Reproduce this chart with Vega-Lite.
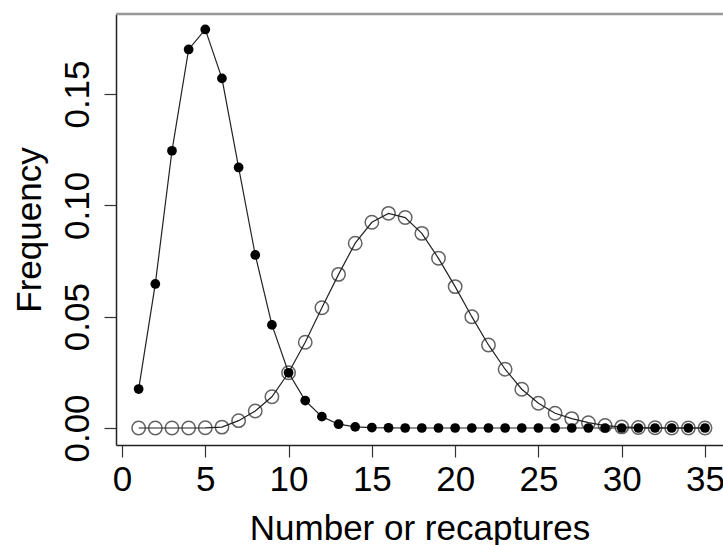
{
  "$schema": "https://vega.github.io/schema/vega-lite/v6.json",
  "width": 607,
  "height": 431,
  "autosize": {"type": "none"},
  "padding": {"left": 116, "top": 14, "right": 0, "bottom": 100},
  "background": "white",
  "config": {
    "view": {"stroke": null},
    "font": "Liberation Sans",
    "axis": {
      "grid": false,
      "domainColor": "#222",
      "domainWidth": 1.5,
      "tickColor": "#333",
      "tickWidth": 1.2,
      "tickSize": 12,
      "labelFont": "Liberation Sans",
      "labelFontSize": 35,
      "labelColor": "#000",
      "titleFont": "Liberation Sans",
      "titleFontSize": 35,
      "titleFontWeight": "normal",
      "titleColor": "#000",
      "labelFlush": false,
      "labelOverlap": false
    }
  },
  "data": {
    "values": [
      {"x": 1, "freq": 0.0175, "series": "filled"},
      {"x": 2, "freq": 0.0647, "series": "filled"},
      {"x": 3, "freq": 0.1245, "series": "filled"},
      {"x": 4, "freq": 0.170, "series": "filled"},
      {"x": 5, "freq": 0.179, "series": "filled"},
      {"x": 6, "freq": 0.157, "series": "filled"},
      {"x": 7, "freq": 0.117, "series": "filled"},
      {"x": 8, "freq": 0.0777, "series": "filled"},
      {"x": 9, "freq": 0.0463, "series": "filled"},
      {"x": 10, "freq": 0.0248, "series": "filled"},
      {"x": 11, "freq": 0.0123, "series": "filled"},
      {"x": 12, "freq": 0.0051, "series": "filled"},
      {"x": 13, "freq": 0.0017, "series": "filled"},
      {"x": 14, "freq": 0.0005, "series": "filled"},
      {"x": 15, "freq": 0.0002, "series": "filled"},
      {"x": 16, "freq": 0.0001, "series": "filled"},
      {"x": 17, "freq": 0.0, "series": "filled"},
      {"x": 18, "freq": 0.0, "series": "filled"},
      {"x": 19, "freq": 0.0, "series": "filled"},
      {"x": 20, "freq": 0.0, "series": "filled"},
      {"x": 21, "freq": 0.0, "series": "filled"},
      {"x": 22, "freq": 0.0, "series": "filled"},
      {"x": 23, "freq": 0.0, "series": "filled"},
      {"x": 24, "freq": 0.0, "series": "filled"},
      {"x": 25, "freq": 0.0, "series": "filled"},
      {"x": 26, "freq": 0.0, "series": "filled"},
      {"x": 27, "freq": 0.0, "series": "filled"},
      {"x": 28, "freq": 0.0, "series": "filled"},
      {"x": 29, "freq": 0.0, "series": "filled"},
      {"x": 30, "freq": 0.0, "series": "filled"},
      {"x": 31, "freq": 0.0, "series": "filled"},
      {"x": 32, "freq": 0.0, "series": "filled"},
      {"x": 33, "freq": 0.0, "series": "filled"},
      {"x": 34, "freq": 0.0, "series": "filled"},
      {"x": 35, "freq": 0.0, "series": "filled"},
      {"x": 1, "freq": 0.0, "series": "open"},
      {"x": 2, "freq": 0.0, "series": "open"},
      {"x": 3, "freq": 0.0, "series": "open"},
      {"x": 4, "freq": 0.0, "series": "open"},
      {"x": 5, "freq": 0.0001, "series": "open"},
      {"x": 6, "freq": 0.0004, "series": "open"},
      {"x": 7, "freq": 0.0033, "series": "open"},
      {"x": 8, "freq": 0.0076, "series": "open"},
      {"x": 9, "freq": 0.014, "series": "open"},
      {"x": 10, "freq": 0.0248, "series": "open"},
      {"x": 11, "freq": 0.0385, "series": "open"},
      {"x": 12, "freq": 0.054, "series": "open"},
      {"x": 13, "freq": 0.069, "series": "open"},
      {"x": 14, "freq": 0.083, "series": "open"},
      {"x": 15, "freq": 0.0924, "series": "open"},
      {"x": 16, "freq": 0.0964, "series": "open"},
      {"x": 17, "freq": 0.0945, "series": "open"},
      {"x": 18, "freq": 0.0874, "series": "open"},
      {"x": 19, "freq": 0.0762, "series": "open"},
      {"x": 20, "freq": 0.0635, "series": "open"},
      {"x": 21, "freq": 0.050, "series": "open"},
      {"x": 22, "freq": 0.0373, "series": "open"},
      {"x": 23, "freq": 0.0264, "series": "open"},
      {"x": 24, "freq": 0.0174, "series": "open"},
      {"x": 25, "freq": 0.0111, "series": "open"},
      {"x": 26, "freq": 0.0066, "series": "open"},
      {"x": 27, "freq": 0.0042, "series": "open"},
      {"x": 28, "freq": 0.0024, "series": "open"},
      {"x": 29, "freq": 0.0011, "series": "open"},
      {"x": 30, "freq": 0.0005, "series": "open"},
      {"x": 31, "freq": 0.0002, "series": "open"},
      {"x": 32, "freq": 0.0001, "series": "open"},
      {"x": 33, "freq": 0.0, "series": "open"},
      {"x": 34, "freq": 0.0, "series": "open"},
      {"x": 35, "freq": 0.0, "series": "open"}
    ]
  },
  "layer": [
    {
      "data": {"values": [{}]},
      "mark": {"type": "rule", "color": "#999", "strokeWidth": 2.5},
      "encoding": {
        "x": {"datum": -0.36, "type": "quantitative", "scale": {"domain": [-0.36, 36.08], "nice": false, "zero": false}},
        "x2": {"datum": 36.08},
        "y": {"datum": 0.18593, "type": "quantitative", "scale": {"domain": [-0.007635, 0.18593], "nice": false, "zero": false}}
      }
    },
    {
      "mark": {"type": "line", "color": "#222", "strokeWidth": 1.2},
      "encoding": {
        "x": {
          "field": "x",
          "type": "quantitative",
          "scale": {"domain": [-0.36, 36.08], "nice": false, "zero": false},
          "axis": {
            "title": "Number or recaptures",
            "values": [0, 5, 10, 15, 20, 25, 30, 35],
            "labelPadding": 5,
            "titlePadding": 14
          }
        },
        "y": {
          "field": "freq",
          "type": "quantitative",
          "scale": {"domain": [-0.007635, 0.18593], "nice": false, "zero": false},
          "axis": {
            "title": "Frequency",
            "values": [0, 0.05, 0.1, 0.15],
            "format": ".2f",
            "labelAngle": -90,
            "labelAlign": "center",
            "labelBaseline": "alphabetic",
            "labelPadding": 16,
            "titlePadding": 13
          }
        },
        "detail": {"field": "series"}
      }
    },
    {
      "transform": [{"filter": "datum.series == 'open'"}],
      "mark": {"type": "point", "shape": "circle", "filled": false, "size": 180, "stroke": "#222", "strokeWidth": 1.5},
      "encoding": {
        "x": {"field": "x", "type": "quantitative"},
        "y": {"field": "freq", "type": "quantitative"}
      }
    },
    {
      "transform": [{"filter": "datum.series == 'filled'"}],
      "mark": {"type": "circle", "size": 95, "color": "#000", "opacity": 1},
      "encoding": {
        "x": {"field": "x", "type": "quantitative"},
        "y": {"field": "freq", "type": "quantitative"}
      }
    }
  ]
}
